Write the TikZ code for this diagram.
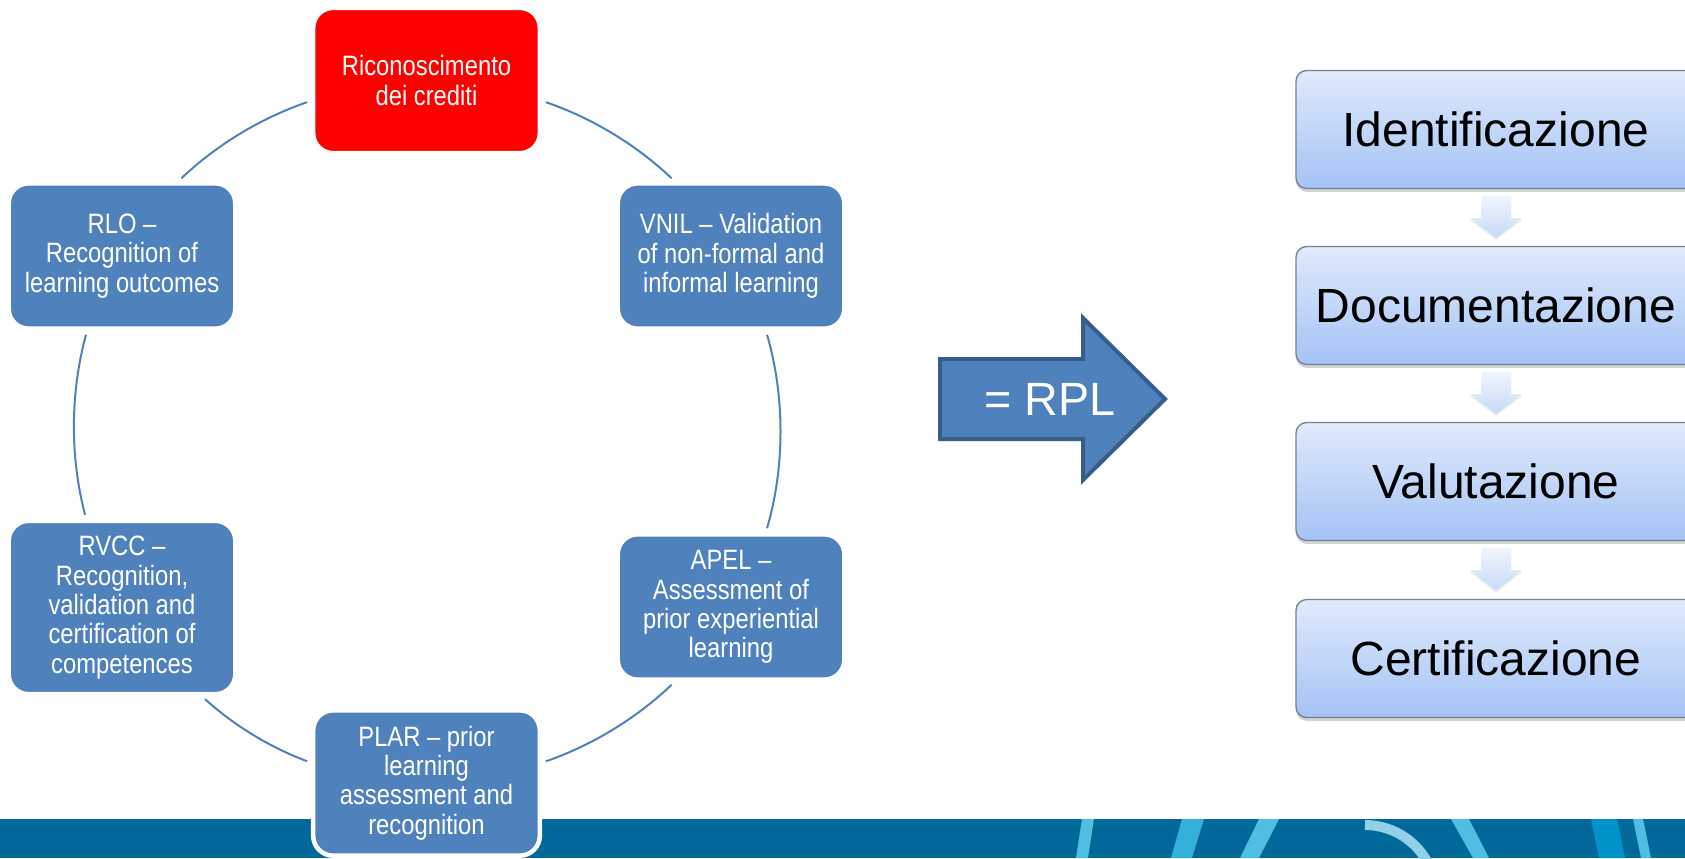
\documentclass[tikz,border=0pt]{standalone}
\usepackage{fontspec}
\setmainfont{Liberation Sans}
\newfontfamily\narrowfont{Liberation Sans}[FakeStretch=0.85]
\usetikzlibrary{calc,shadows}

\definecolor{cycleblue}{RGB}{79,129,189}
\definecolor{cyclered}{RGB}{255,0,0}
\definecolor{arrowedge}{RGB}{56,93,138}
\definecolor{bandblue}{RGB}{0,105,153}
\definecolor{decolight}{RGB}{80,190,226}
\definecolor{decomid}{RGB}{52,177,217}
\definecolor{decopale}{RGB}{146,208,233}
\definecolor{decobright}{RGB}{0,147,201}
\definecolor{steptop}{RGB}{224,234,252}
\definecolor{stepbottom}{RGB}{164,195,245}
\definecolor{stepedge}{RGB}{118,128,142}
\definecolor{downtop}{RGB}{240,245,254}
\definecolor{downbottom}{RGB}{200,217,247}

\tikzset{every picture/.style={line width=0.75pt}}
\tikzset{
  cyclebox/.style={draw=white, line width=3.4pt, fill=cycleblue, rounded corners=15pt,
    minimum width=170pt, minimum height=109pt, inner sep=2pt, align=center,
    text=white, font=\narrowfont\fontsize{21}{22}\selectfont},
  cyclebox red/.style={cyclebox, fill=cyclered},
  cycleline/.style={draw=cycleblue, line width=1.5pt, shorten <=3pt, shorten >=3pt, looseness=0.87},
  stepbox/.style={draw=stepedge, line width=1pt, rounded corners=8pt,
    top color=steptop, bottom color=stepbottom,
    minimum width=300pt, minimum height=88.5pt, inner sep=0pt,
    font=\fontsize{36}{40}\selectfont,
    drop shadow={shadow xshift=0pt, shadow yshift=-2.5pt, opacity=0.35}},
  stepdown/.style={top color=downtop, bottom color=downbottom, draw=none,
    drop shadow={shadow xshift=0pt, shadow yshift=-1.5pt, opacity=0.15}},
  rplarrow/.style={fill=cycleblue, draw=arrowedge, line width=3pt, line join=miter},
}

\begin{document}
\begin{tikzpicture}[x=0.75pt,y=0.75pt,yscale=-1,xscale=1]
    \useasboundingbox (0,0) rectangle (1685,858);

    %Band: bottom strip
    \fill [bandblue] (0,819) rectangle (1685,858);

    %Band: decorations
    \begin{scope}
      \clip (0,819) rectangle (1685,858);
      \fill [decolight]  (1082,819) -- (1094,819) -- (1088,858) -- (1076,858) -- cycle;
      \fill [decomid]    (1182,819) -- (1204,819) -- (1192,858) -- (1171,858) -- cycle;
      \fill [decolight]  (1259,819) -- (1279,819) -- (1259,858) -- (1240,858) -- cycle;
      \draw [decopale, line width=7.5pt] (1365,825) arc [start angle=-90, end angle=-20, radius=71];
      \fill [decolight]  (1451,819) -- (1469,819) -- (1489,858) -- (1473,858) -- cycle;
      \fill [decobright] (1591,819) -- (1617,819) -- (1625,858) -- (1599,858) -- cycle;
      \fill [decolight]  (1633,819) -- (1643,819) -- (1651,858) -- (1641,858) -- cycle;
    \end{scope}

    %Cycle: nodes
    \node [cyclebox red] (ric) at (426.5, 80.5) {Riconoscimento\\dei crediti};
    \node [cyclebox] (vnil) at (731, 256) {VNIL – Validation\\of non-formal and\\informal learning};
    \node [cyclebox] (apel) at (731, 607) {APEL –\\Assessment of\\prior experiential\\learning};
    \node [cyclebox] (plar) at (426.5, 783) {PLAR – prior\\learning\\assessment and\\recognition};
    \node [cyclebox, minimum height=130pt] (rvcc) at (122, 607.5) {RVCC –\\Recognition,\\validation and\\certification of\\competences};
    \node [cyclebox] (rlo) at (122, 256) {RLO –\\Recognition of\\learning outcomes};

    %Cycle: arcs (yscale=-1 mirrors the bend)
    \foreach \a/\pa/\b/\pb/\bend in {ric/-10/vnil/127/12.3, vnil/-65/apel/65/16.2,
        apel/233/plar/10/12.3, plar/170/rvcc/-48/10.9, rvcc/112/rlo/245/15, rlo/53/ric/190/12.3}
      \draw [cycleline] (\a.\pa) to [bend right=\bend] (\b.\pb);

    %Shape: Arrow = RPL
    \draw [rplarrow] (940,359) -- (1083,359) -- (1083,318) -- (1165,399)
          -- (1083,480) -- (1083,439) -- (940,439) -- cycle;
    \node [text=white, font=\fontsize{35}{40}\selectfont] (rpl) at (1050,399) {= RPL};

    %Steps
    \node [stepbox] (ide) at (1496, 129.5) {Identificazione};
    \node [stepbox] (doc) at (1496, 305.5) {Documentazione};
    \node [stepbox] (val) at (1496, 481.5) {Valutazione};
    \node [stepbox] (cer) at (1496, 658.5) {Certificazione};

    %Steps: down arrows
    \foreach \a/\b in {ide/doc, doc/val, val/cer}
      \path [stepdown] ($(\a.south)+(-15,7)$) -- ($(\a.south)+(15,7)$) -- ($(\a.south)+(15,29)$)
            -- ($(\a.south)+(26,29)$) -- ($(\b.north)+(0,-8)$) -- ($(\a.south)+(-26,29)$)
            -- ($(\a.south)+(-15,29)$) -- cycle;
\end{tikzpicture}
\end{document}
